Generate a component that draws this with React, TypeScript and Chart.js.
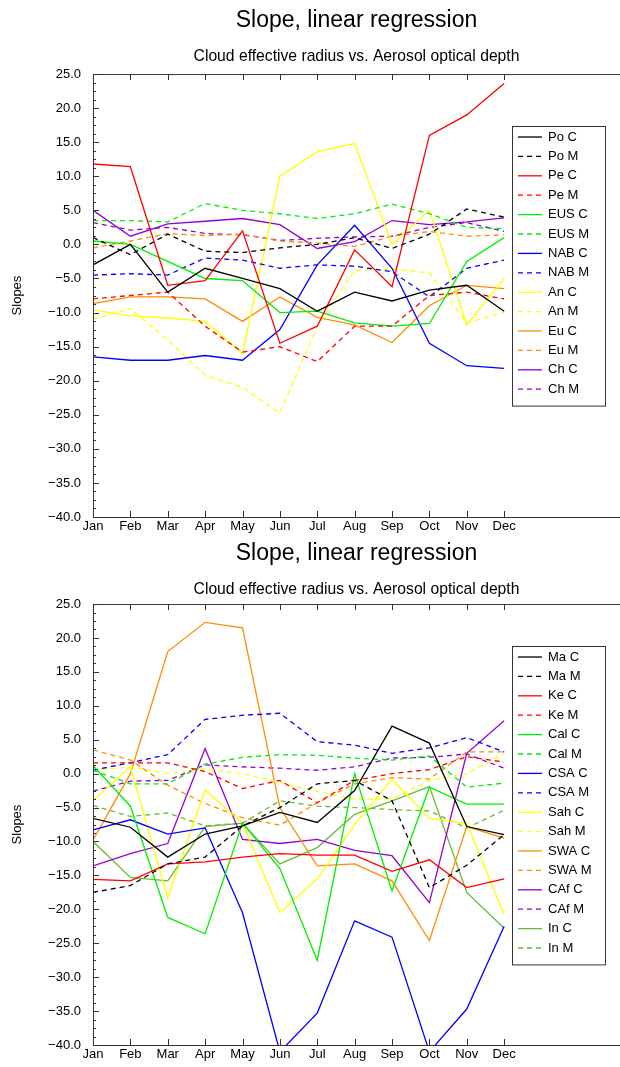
import React, { useEffect, useRef } from "react";
import { Chart, registerables } from "chart.js";
Chart.register(...registerables);

const months = ["Jan","Feb","Mar","Apr","May","Jun","Jul","Aug","Sep","Oct","Nov","Dec"];
const yTicks = [25,20,15,10,5,0,-5,-10,-15,-20,-25,-30,-35,-40];

const topNames = ["Po C","Po M","Pe C","Pe M","EUS C","EUS M","NAB C","NAB M","An C","An M","Eu C","Eu M","Ch C","Ch M"];
const poC = [-3,0,-7,-3.5,-5,-6.5,-9.8,-7,-8.3,-6.7,-6,-9.8];
const poM = [1,-1.5,1.5,-1,-1.2,-0.5,0,1,-0.6,1.5,5.2,4];
const peC = [11.8,11.4,-6,-5.3,2,-14.5,-12,-0.8,-6.2,16,19,23.6];
const peM = [-8,-7.5,-7,-12,-15.8,-15,-17.2,-12,-12,-7.5,-7,-8];
const eusC = [0.5,0,-2.5,-5,-5.3,-10,-9.8,-11.5,-12,-11.6,-2.5,1];
const eusM = [3.5,3.5,3.3,6,5,4.5,3.8,4.5,5.9,4.5,2.5,2.3];
const nabC = [-16.5,-17,-17,-16.3,-17,-12.5,-3,2.8,-3.5,-14.5,-17.8,-18.2];
const nabM = [-4.5,-4.3,-4.5,-2,-2.3,-3.5,-3,-3.2,-4,-7.7,-3.5,-2.3];
const anC = [-9.6,-10.5,-10.8,-11.3,-16,10,13.6,14.8,0,5,-11.8,-5];
const anM = [-11,-9.4,-14,-19.2,-21,-24.7,-12,-3.8,-3.6,-4.2,-11.5,-10];
const euC = [-8.7,-7.7,-7.7,-8,-11.3,-7.7,-10.7,-11.8,-14.4,-9,-6,-6.5];
const euM = [-0.5,0.5,1.6,1.3,1.5,0.5,0.2,-0.3,1.2,1.9,1.2,1.4];
const chC = [5,1.2,3,3.4,3.8,2.9,-0.6,0.4,3.5,2.9,3.3,3.9];
const chM = [3.2,2.1,2.5,1.6,1.4,0.6,0.9,1.1,1.2,2.5,3.2,1.9];

const botNames = ["Ma C","Ma M","Ke C","Ke M","Cal C","Cal M","CSA C","CSA M","Sah C","Sah M","SWA C","SWA M","CAf C","CAf M","In C","In M"];
const maC = [-6.6,-7.9,-12.3,-8.9,-7.7,-5.7,-7.2,-2.5,7,4.5,-7.8,-9];
const maM = [-17.5,-16.5,-13.3,-12.3,-7.7,-5,-1.5,-1,-4,-16.8,-13.5,-9];
const keC = [-15.6,-15.8,-13.3,-13,-12.3,-11.8,-12,-12,-14.4,-12.7,-16.8,-15.5];
const keM = [1.6,1.6,1.6,0.3,-2.2,-1,-4.3,-1,0,0.6,2.5,1.7];
const calC = [1.2,-4.8,-21.2,-23.6,-7.3,-14,-27.5,0,-17.3,-2,-4.5,-4.5];
const calM = [0.5,-1.5,-1.5,1.4,2.4,2.8,2.7,2.3,2,2.6,-2,-1.4];
const csaC = [-8.3,-6.8,-8.9,-8,-20.5,-41,-35.3,-21.7,-24.1,-41,-34.7,-22.5];
const csaM = [0.5,1.6,2.8,8,8.6,8.9,4.7,4.2,3,3.8,5.3,3.2];
const sahC = [-4,1,-18.3,-2.4,-7.3,-20.5,-15.5,-7.5,-0.8,-6.6,-7.3,-20.8];
const sahM = [0.5,1,0,0.7,0,-1.3,-2.6,-3.8,-3.7,-1,0,3];
const swaC = [-9.8,0,18,22.3,21.5,-5,-13.6,-13.3,-15.8,-24.6,-7.8,-9.5];
const swaM = [3.5,2,-1.7,-4.4,-6.5,-7.6,-4.3,-1.5,-0.6,-0.8,3.2,3.2];
const cafC = [-13.6,-11.8,-10.3,3.7,-9.7,-10.3,-9.7,-11.3,-12.1,-19,3,7.8];
const cafM = [-2.6,-1.1,-1,1.3,1,0.8,0.5,1,2.3,2.4,2.9,0.8];
const inC = [-10,-15.3,-15.8,-7.8,-7.3,-13.3,-10.9,-6,-4,-1.9,-17.5,-22.8];
const inM = [-4.7,-6.3,-5.8,-7.7,-7.3,-4,-4.8,-5,-5.3,-5.5,-8,-5.4];

const topSeries = [poC,poM,peC,peM,eusC,eusM,nabC,nabM,anC,anM,euC,euM,chC,chM];
const topColors = ["#000000","#ff0000","#00ee00","#0000ff","#ffff00","#ff8c00","#9400d3"];
const botSeries = [maC,maM,keC,keM,calC,calM,csaC,csaM,sahC,sahM,swaC,swaM,cafC,cafM,inC,inM];
const botColors = ["#000000","#ff0000","#00ee00","#0000ff","#ffff00","#ff8c00","#9400d3","#66bb33"];

const FONT = "'Liberation Sans', Arial, sans-serif";

const framePlugin = {
  id: "frame",
  afterDraw(chart: any) {
    const { ctx, chartArea: a, scales } = chart;
    const x = scales.x, y = scales.y;
    ctx.save();
    ctx.strokeStyle = "#333";
    ctx.lineWidth = 1;
    ctx.strokeRect(a.left + 0.5, a.top + 0.5, a.right - a.left + 2, a.bottom - a.top);
    ctx.beginPath();
    for (let i = 0; i < 12; i++) {
      const px = Math.round(x.getPixelForValue(i)) + 0.5;
      ctx.moveTo(px, a.bottom); ctx.lineTo(px, a.bottom - 6);
      ctx.moveTo(px, a.top); ctx.lineTo(px, a.top + 6);
    }
    for (let v = -40; v <= 25; v += 1.25) {
      const py = Math.round(y.getPixelForValue(v)) + 0.5;
      const major = Math.abs(v % 5) < 1e-6;
      ctx.moveTo(a.left, py); ctx.lineTo(a.left + (major ? 6 : 3), py);
    }
    ctx.stroke();
    const ds = chart.data.datasets;
    const lx = 512, ly = chart.options.plugins.legBox.top, rowH = 19.4;
    const h = ds.length * rowH + 8;
    ctx.fillStyle = "#fff";
    ctx.fillRect(lx, ly, 94, h);
    ctx.strokeStyle = "#333";
    ctx.strokeRect(lx + 0.5, ly + 0.5, 93, h);
    ctx.font = "13px " + FONT;
    ctx.textBaseline = "middle";
    ds.forEach((d: any, i: number) => {
      const cy = ly + 11 + i * rowH;
      ctx.strokeStyle = d.borderColor;
      ctx.lineWidth = 1.3;
      ctx.setLineDash(d.borderDash || []);
      ctx.beginPath(); ctx.moveTo(lx + 6, cy); ctx.lineTo(lx + 30, cy); ctx.stroke();
      ctx.setLineDash([]);
      ctx.fillStyle = "#000";
      ctx.fillText(d.label, lx + 36, cy);
    });
    ctx.restore();
  },
};

function Panel({ names, series, colors, legTop, subPad, xH }: any) {
  const ref = useRef<HTMLCanvasElement>(null);
  useEffect(() => {
    const datasets = series.map((s: number[], i: number) => ({
      label: names[i],
      data: s.map((v, j) => ({ x: j, y: v })),
      borderColor: colors[Math.floor(i / 2)],
      borderWidth: 1.3,
      borderDash: i % 2 ? [5, 4] : [],
      pointRadius: 0,
      fill: false,
      tension: 0,
    }));
    const chart = new Chart(ref.current!, {
      type: "line",
      data: { datasets },
      plugins: [framePlugin],
      options: {
        animation: false,
        responsive: false,
        layout: { padding: { left: 10, right: 0, top: 0, bottom: 0 } },
        plugins: {
          legend: { display: false },
          tooltip: { enabled: false },
          legBox: { top: legTop },
          title: { display: true, fullSize: false, text: "Slope, linear regression", color: "#000", font: { family: FONT, size: 23, weight: "normal" }, padding: { top: 7, bottom: 13 } },
          subtitle: { display: true, fullSize: false, text: "Cloud effective radius vs. Aerosol optical depth", color: "#000", font: { family: FONT, size: 15.7 }, padding: { top: 0, bottom: subPad } },
        } as any,
        scales: {
          x: {
            type: "linear", min: 0, max: 14.1,
            afterBuildTicks: (s: any) => { s.ticks = months.map((_, i) => ({ value: i })); },
            afterFit: (s: any) => { s.height = xH; },
            ticks: { callback: (v: any) => months[v], color: "#000", font: { family: FONT, size: 13 }, maxRotation: 0, autoSkip: false, padding: 2 },
            grid: { display: false, tickLength: 0 }, border: { display: false },
          },
          y: {
            min: -40, max: 25,
            afterBuildTicks: (s: any) => { s.ticks = yTicks.map((v) => ({ value: v })); },
            afterFit: (s: any) => { s.width = 83; },
            ticks: { callback: (v: any) => Number(v).toFixed(1).replace("-", "\u2212"), color: "#000", font: { family: FONT, size: 13 }, padding: 4 },
            title: { display: true, text: "Slopes", color: "#000", font: { family: FONT, size: 13 }, padding: 0 },
            grid: { display: false }, border: { display: false },
          },
        },
      },
    });
    return () => chart.destroy();
  }, []);
  return <canvas ref={ref} width={620} height={533} style={{ display: "block", width: 620, height: 533 }} />;
}

export default function App() {
  useEffect(() => { document.body.style.margin = "0"; }, []);
  return (
    <div style={{ width: 620, background: "#fff" }}>
      <Panel names={topNames} series={topSeries} colors={topColors} legTop={126} subPad={7.6} xH={16} />
      <Panel names={botNames} series={botSeries} colors={botColors} legTop={113} subPad={4.6} xH={21} />
    </div>
  );
}
